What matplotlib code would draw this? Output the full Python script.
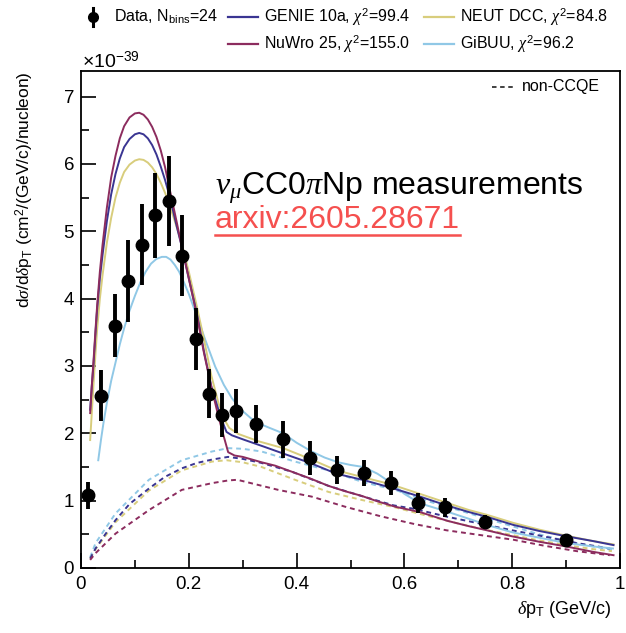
import matplotlib
matplotlib.use('Agg')
import matplotlib.pyplot as plt
from matplotlib.lines import Line2D
from matplotlib.ticker import MultipleLocator, FuncFormatter

plt.rcParams['font.family'] = ['Liberation Sans', 'DejaVu Sans']
plt.rcParams['mathtext.fontset'] = 'custom'
plt.rcParams['mathtext.rm'] = 'Liberation Sans'
plt.rcParams['mathtext.it'] = 'Liberation Serif:italic'
plt.rcParams['mathtext.bf'] = 'Liberation Sans:bold'

###### data (units of 1e-39 cm2/(GeV/c)/nucleon) ######
x_data = [0.0125, 0.0375, 0.0625, 0.0875, 0.1125, 0.1375, 0.1625, 0.1875, 0.2125, 0.2375, 0.2625,
          0.2875, 0.325, 0.375, 0.425, 0.475, 0.525, 0.575, 0.625, 0.675, 0.75, 0.90]
y_data = [1.08, 2.56, 3.60, 4.26, 4.80, 5.24, 5.45, 4.64, 3.40, 2.59, 2.27,
          2.33, 2.14, 1.91, 1.63, 1.45, 1.41, 1.26, 0.97, 0.90, 0.69, 0.42]
y_err = [0.20, 0.38, 0.47, 0.61, 0.60, 0.63, 0.67, 0.60, 0.46, 0.37, 0.33,
         0.33, 0.28, 0.27, 0.25, 0.21, 0.19, 0.18, 0.15, 0.14, 0.10, 0.05]

# GENIE 10a
genie_x = [0.017, 0.020, 0.023, 0.027, 0.030, 0.035, 0.040, 0.048, 0.056, 0.064, 0.072, 0.080, 0.090,
           0.100, 0.108, 0.116, 0.124, 0.132, 0.140, 0.148, 0.156, 0.163, 0.170, 0.178, 0.187, 0.200,
           0.215, 0.228, 0.242, 0.255, 0.265, 0.270, 0.280, 0.304, 0.340, 0.375, 0.425, 0.474, 0.527,
           0.576, 0.629, 0.678, 0.720, 0.753, 0.802, 0.850, 0.901, 0.950, 0.988]
genie_y = [2.35, 2.70, 3.00, 3.50, 3.85, 4.30, 4.65, 5.15, 5.55, 5.85, 6.08, 6.25, 6.37,
           6.44, 6.46, 6.44, 6.38, 6.28, 6.14, 5.96, 5.76, 5.56, 5.33, 5.06, 4.77, 4.30,
           3.78, 3.22, 2.69, 2.35, 2.12, 2.02, 1.97, 1.90, 1.80, 1.70, 1.56, 1.40, 1.30,
           1.19, 1.06, 0.93, 0.83, 0.76, 0.64, 0.55, 0.47, 0.40, 0.34]
# NEUT DCC
neut_x = [0.017, 0.020, 0.023, 0.027, 0.030, 0.035, 0.040, 0.048, 0.056, 0.064, 0.072, 0.080, 0.090,
          0.100, 0.108, 0.116, 0.124, 0.132, 0.140, 0.148, 0.156, 0.163, 0.170, 0.180, 0.190, 0.200,
          0.215, 0.228, 0.242, 0.255, 0.265, 0.275, 0.292, 0.330, 0.375, 0.425, 0.474, 0.527, 0.576,
          0.629, 0.678, 0.720, 0.753, 0.802, 0.850, 0.900, 0.950, 0.988]
neut_y = [1.90, 2.30, 2.70, 3.20, 3.55, 4.00, 4.35, 4.83, 5.20, 5.50, 5.72, 5.88, 5.99,
          6.05, 6.07, 6.06, 6.02, 5.95, 5.85, 5.72, 5.57, 5.42, 5.25, 5.00, 4.72, 4.40,
          3.88, 3.40, 2.85, 2.45, 2.22, 2.08, 1.99, 1.88, 1.78, 1.62, 1.45, 1.34, 1.24,
          1.10, 0.97, 0.86, 0.79, 0.67, 0.57, 0.48, 0.40, 0.35]
# NuWro 25
nuwro_x = [0.017, 0.020, 0.023, 0.027, 0.030, 0.035, 0.040, 0.048, 0.056, 0.064, 0.072, 0.080, 0.090,
           0.100, 0.108, 0.116, 0.124, 0.132, 0.140, 0.148, 0.156, 0.163, 0.170, 0.178, 0.187, 0.200,
           0.215, 0.228, 0.242, 0.255, 0.265, 0.273, 0.285, 0.300, 0.335, 0.360, 0.391, 0.425, 0.459,
           0.490, 0.521, 0.550, 0.583, 0.629, 0.680, 0.720, 0.753, 0.800, 0.850, 0.900, 0.950, 0.988]
nuwro_y = [2.30, 2.70, 3.05, 3.55, 3.90, 4.40, 4.80, 5.35, 5.80, 6.12, 6.38, 6.56, 6.69,
           6.75, 6.76, 6.73, 6.66, 6.55, 6.40, 6.20, 5.95, 5.68, 5.42, 5.12, 4.77, 4.30,
           3.75, 3.20, 2.68, 2.25, 1.95, 1.72, 1.67, 1.65, 1.57, 1.52, 1.43, 1.33, 1.22,
           1.14, 1.07, 0.99, 0.91, 0.83, 0.70, 0.62, 0.56, 0.47, 0.39, 0.32, 0.24, 0.19]
# GiBUU
gibuu_x = [0.032, 0.037, 0.042, 0.048, 0.056, 0.064, 0.072, 0.080, 0.090, 0.100, 0.110, 0.120, 0.130,
           0.140, 0.150, 0.158, 0.166, 0.174, 0.182, 0.190, 0.200, 0.210, 0.218, 0.230, 0.249, 0.265,
           0.280, 0.300, 0.323, 0.350, 0.375, 0.400, 0.428, 0.452, 0.477, 0.500, 0.524, 0.550, 0.576,
           0.600, 0.629, 0.678, 0.720, 0.753, 0.800, 0.850, 0.901, 0.950, 0.987]
gibuu_y = [1.60, 1.90, 2.17, 2.45, 2.78, 3.05, 3.32, 3.56, 3.82, 4.04, 4.24, 4.40, 4.52,
           4.59, 4.62, 4.62, 4.58, 4.50, 4.40, 4.26, 4.07, 3.85, 3.68, 3.40, 2.99, 2.72,
           2.52, 2.33, 2.17, 2.08, 2.00, 1.86, 1.73, 1.64, 1.57, 1.53, 1.50, 1.40, 1.26,
           1.10, 0.96, 0.84, 0.73, 0.64, 0.53, 0.45, 0.37, 0.32, 0.29]

# non-CCQE components
genie_nq_x = [0.017, 0.027, 0.045, 0.064, 0.090, 0.126, 0.155, 0.187, 0.215, 0.243, 0.273, 0.300,
              0.335, 0.391, 0.459, 0.520, 0.580, 0.617, 0.680, 0.740, 0.800, 0.864, 0.920, 0.981]
genie_nq_y = [0.14, 0.29, 0.50, 0.71, 0.95, 1.18, 1.35, 1.48, 1.56, 1.61, 1.65, 1.62,
              1.56, 1.43, 1.22, 1.07, 0.93, 0.88, 0.76, 0.66, 0.56, 0.46, 0.37, 0.29]
neut_nq_x = [0.017, 0.027, 0.064, 0.126, 0.187, 0.243, 0.270, 0.300, 0.335, 0.397, 0.459, 0.521,
             0.583, 0.640, 0.700, 0.750, 0.800, 0.850, 0.900, 0.950, 0.985]
neut_nq_y = [0.14, 0.28, 0.68, 1.15, 1.45, 1.58, 1.60, 1.57, 1.50, 1.31, 1.13, 1.01,
             0.90, 0.78, 0.66, 0.57, 0.49, 0.41, 0.34, 0.28, 0.25]
gibuu_nq_x = [0.017, 0.027, 0.064, 0.126, 0.187, 0.243, 0.273, 0.300, 0.335, 0.397, 0.459, 0.521,
              0.583, 0.640, 0.700, 0.750, 0.800, 0.850, 0.900, 0.950, 0.985]
gibuu_nq_y = [0.16, 0.37, 0.81, 1.31, 1.60, 1.73, 1.78, 1.77, 1.73, 1.58, 1.45, 1.28,
              1.16, 1.00, 0.86, 0.74, 0.62, 0.50, 0.40, 0.32, 0.27]
nuwro_nq_x = [0.017, 0.027, 0.064, 0.126, 0.187, 0.243, 0.273, 0.290, 0.366, 0.428, 0.490, 0.555,
              0.620, 0.678, 0.740, 0.802, 0.860, 0.920, 0.981]
nuwro_nq_y = [0.12, 0.22, 0.51, 0.86, 1.16, 1.26, 1.30, 1.31, 1.16, 1.06, 0.91, 0.77,
              0.65, 0.56, 0.49, 0.42, 0.33, 0.25, 0.19]

c_genie = '#3a3592'
c_neut = '#d8cd7c'
c_nuwro = '#8c2c5e'
c_gibuu = '#90c8e6'

W, H = 626, 633
def fx(px):
    return px / W
def fy(py):
    return 1 - py / H

fig = plt.figure(figsize=(W / 100, H / 100), dpi=100)
ax = fig.add_axes([fx(81), fy(568), (620 - 81) / W, (568 - 71) / H])

dash = (0, (2.5, 2))
ax.plot(gibuu_nq_x, gibuu_nq_y, color=c_gibuu, lw=1.4, ls=dash)
ax.plot(neut_nq_x, neut_nq_y, color=c_neut, lw=1.4, ls=dash)
ax.plot(genie_nq_x, genie_nq_y, color=c_genie, lw=1.4, ls=dash)
ax.plot(nuwro_nq_x, nuwro_nq_y, color=c_nuwro, lw=1.4, ls=dash)

ax.plot(gibuu_x, gibuu_y, color=c_gibuu, lw=1.4)
ax.plot(neut_x, neut_y, color=c_neut, lw=1.4)
ax.plot(genie_x, genie_y, color=c_genie, lw=1.4)
ax.plot(nuwro_x, nuwro_y, color=c_nuwro, lw=1.4)

ax.errorbar(x_data, y_data, yerr=y_err, fmt='o', color='black', ms=9, elinewidth=2.8,
            capsize=0, zorder=5)

ax.set_xlim(0, 1)
ax.set_ylim(0, 7.38)
ax.xaxis.set_major_locator(MultipleLocator(0.2))
ax.xaxis.set_minor_locator(MultipleLocator(0.1))
ax.yaxis.set_major_locator(MultipleLocator(1))
ax.yaxis.set_minor_locator(MultipleLocator(0.5))
ax.xaxis.set_major_formatter(FuncFormatter(lambda v, p: '%g' % v))
ax.tick_params(which='both', direction='in', top=False, right=False, width=1.2, labelsize=13.5)
ax.tick_params(which='major', length=11)
ax.tick_params(which='minor', length=5.5)
ax.tick_params(axis='x', pad=6)
ax.tick_params(axis='y', pad=5)
for s in ax.spines.values():
    s.set_linewidth(1.3)

fig.text(fx(25), fy(71), r'd$\sigma$/d$\delta$p$_{\mathrm{T}}$ (cm$^{2}$/(GeV/c)/nucleon)',
         rotation=90, ha='center', va='top', fontsize=12.5)
fig.text(fx(612), fy(610), r'$\delta$p$_{\mathrm{T}}$ (GeV/c)', ha='right', va='center', fontsize=13)
fig.text(fx(82), fy(68), r'$\times$10$^{-39}$', ha='left', va='baseline', fontsize=14)

# legend
fs_leg = 11.5
r1, r2 = 17, 44
fig.add_artist(Line2D([fx(93), fx(93)], [fy(r1 - 9), fy(r1 + 9)], color='black', lw=2.2))
fig.add_artist(Line2D([fx(93)], [fy(r1)], marker='o', color='black', ms=7))
fig.text(fx(114), fy(r1), r'Data, N$_{\mathrm{bins}}$=24', va='center', fontsize=fs_leg)
legend_rows = [(228, r1, c_genie, r'GENIE 10a, $\chi^{2}$=99.4'),
               (424, r1, c_neut, r'NEUT DCC, $\chi^{2}$=84.8'),
               (228, r2, c_nuwro, r'NuWro 25, $\chi^{2}$=155.0'),
               (424, r2, c_gibuu, r'GiBUU, $\chi^{2}$=96.2')]
for lx, ly, col, lab in legend_rows:
    fig.add_artist(Line2D([fx(lx), fx(lx + 30)], [fy(ly), fy(ly)], color=col, lw=1.6))
    fig.text(fx(lx + 36), fy(ly), lab, va='center', fontsize=fs_leg)

fig.add_artist(Line2D([fx(492), fx(516)], [fy(87), fy(87)], color='#333333', lw=1.3, ls=dash))
fig.text(fx(522), fy(87), 'non-CCQE', va='center', fontsize=11.5)

# annotation
fig.text(fx(215), fy(195), r'$\nu_{\mu}$CC0$\pi$Np measurements', ha='left', va='baseline',
         fontsize=23)
t = fig.text(fx(215), fy(228), 'arxiv:2605.28671', ha='left', va='baseline', fontsize=23,
             color='#f5504f')
fig.canvas.draw()
bb = t.get_window_extent()
inv = fig.transFigure.inverted()
p0 = inv.transform((bb.x0, bb.y0))
p1 = inv.transform((bb.x1, bb.y0))
fig.add_artist(Line2D([p0[0], p1[0]], [p0[1], p1[1]], color='#f5504f', lw=1.8))

fig.savefig('out.png', dpi=100)
